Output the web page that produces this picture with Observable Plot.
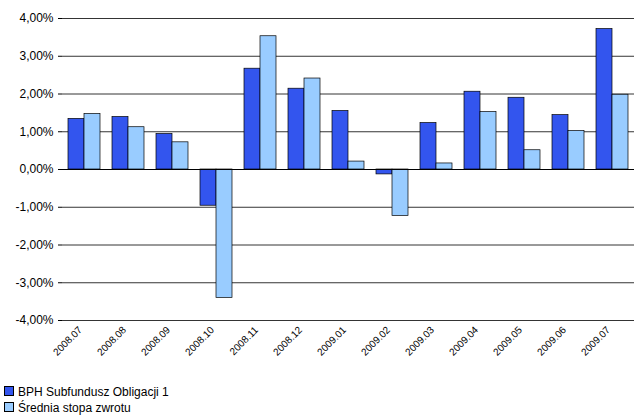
<!DOCTYPE html><html><head><meta charset="utf-8">
<script src="https://cdn.jsdelivr.net/npm/d3@7"></script>
<script src="https://cdn.jsdelivr.net/npm/@observablehq/plot@0.6"></script>
<style>body{margin:0;font-family:Arial,"Liberation Sans",sans-serif;background:#fff}
.lg{font-size:12px;margin-left:4px;line-height:16px}.sw{display:inline-block;width:8px;height:8px;border:1px solid #000;margin-right:4px}</style>
</head><body><div id="c"></div>
<div class="lg"><div><span class="sw" style="background:#3355ee"></span>BPH Subfundusz Obligacji 1</div>
<div><span class="sw" style="background:#99ccff"></span>Średnia stopa zwrotu</div></div>
<script>
const months=["2008.07","2008.08","2008.09","2008.10","2008.11","2008.12","2009.01","2009.02","2009.03","2009.04","2009.05","2009.06","2009.07"];
const fund=[1.34,1.39,0.94,-0.96,2.67,2.14,1.55,-0.13,1.23,2.06,1.90,1.44,3.72];
const avg=[1.47,1.12,0.72,-3.40,3.53,2.41,0.21,-1.23,0.16,1.52,0.51,1.02,1.98];
const series=["BPH Subfundusz Obligacji 1","Średnia stopa zwrotu"];
const data=months.flatMap((m,i)=>[{m,s:series[0],v:fund[i]},{m,s:series[1],v:avg[i]}]);
const fmt=d=>d.toFixed(2).replace(".",",")+"%";
const p=Plot.plot({width:638,height:384,marginLeft:62,marginRight:4,marginTop:18,marginBottom:64,
style:{fontFamily:"Arial, Liberation Sans, sans-serif",fontSize:"12px",color:"#000"},
y:{domain:[-4,4],label:null},
fx:{domain:months,padding:0,label:null},
x:{domain:series,axis:null,paddingInner:0,paddingOuter:0.35},
color:{domain:series,range:["#3355ee","#99ccff"]},
marks:[
Plot.ruleY(d3.range(-4,4.01,1),{stroke:"#000",strokeWidth:0.8}),
Plot.barY(data,{fx:"m",x:"s",y:"v",fill:"s",stroke:"#000",strokeWidth:0.7}),
Plot.ruleY([0],{stroke:"#000"}),
Plot.axisFx({anchor:"bottom",tickRotate:-45,tickSize:0,fontSize:10,dy:-4,dx:-4,textAnchor:"end",label:null}),
Plot.axisY({ticks:d3.range(-4,4.01,1),tickFormat:fmt,tickSize:4,label:null,fontSize:12})
]});
document.getElementById("c").append(p);
</script></body></html>
